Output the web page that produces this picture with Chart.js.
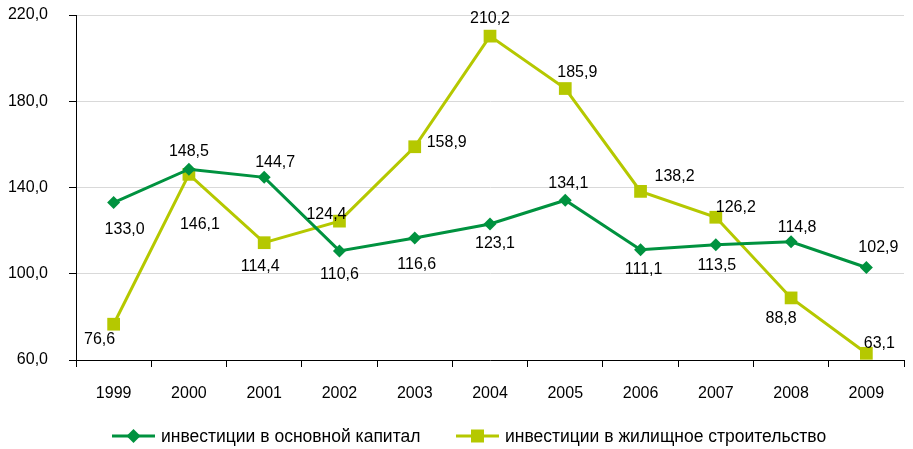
<!DOCTYPE html>
<html>
<head>
<meta charset="utf-8">
<script src="https://cdn.jsdelivr.net/npm/chart.js@4/dist/chart.umd.min.js"></script>
<style>
  html, body { margin: 0; padding: 0; background: #fff; }
  #wrap { width: 913px; height: 449px; }
</style>
</head>
<body>
<div id="wrap"><canvas id="chart" width="913" height="449"></canvas></div>
<script>
// years on the x axis
const years = ['1999', '2000', '2001', '2002', '2003', '2004', '2005', '2006', '2007', '2008', '2009'];

// series values
const fixedCapital = [133.0, 148.5, 144.7, 110.6, 116.6, 123.1, 134.1, 111.1, 113.5, 114.8, 102.9];
const housing = [76.6, 146.1, 114.4, 124.4, 158.9, 210.2, 185.9, 138.2, 126.2, 88.8, 63.1];

const seriesNames = ['инвестиции в основной капитал', 'инвестиции в жилищное строительство'];

// y axis ticks
const yTicks = [60, 100, 140, 180, 220];

// where each value label sits relative to its point (dx, dy in px)
const fixedLabelDx = [11, 0, 11, 0, 2, 5, 3, 3, 1, 6, 12];
const fixedLabelDy = [27, -18, -15, 24, 27, 20, -17, 20, 21, -14, -20];
const housingLabelDx = [-14, 11, -4, -13, 32, 0, 12, 34, 20, -10, 13];
const housingLabelDy = [15, 50, 24, -7, -4, -18, -16, -15, -10, 21, -10];

const darkGreen = '#00923f';
const lightGreen = '#b5c800';
const FONT = 'Liberation Sans, Arial, sans-serif';

function fmt(v) {
  return v.toFixed(1).replace('.', ',');
}

const valueLabels = {
  id: 'valueLabels',
  afterDatasetsDraw(chart) {
    const ctx = chart.ctx;
    const offs = [[fixedLabelDx, fixedLabelDy], [housingLabelDx, housingLabelDy]];
    ctx.save();
    ctx.font = '16px ' + FONT;
    ctx.fillStyle = '#000';
    ctx.textAlign = 'center';
    ctx.textBaseline = 'middle';
    chart.data.datasets.forEach(function (ds, i) {
      const meta = chart.getDatasetMeta(i);
      meta.data.forEach(function (pt, j) {
        ctx.fillText(fmt(ds.data[j]), pt.x + offs[i][0][j], pt.y + offs[i][1][j]);
      });
    });
    ctx.restore();
  }
};

const bottomLegend = {
  id: 'bottomLegend',
  afterDraw(chart) {
    const ctx = chart.ctx;
    const items = [
      { x: 112, color: darkGreen, style: 'diamond', text: seriesNames[0] },
      { x: 456, color: lightGreen, style: 'square', text: seriesNames[1] }
    ];
    const y = 436;
    ctx.save();
    items.forEach(function (it) {
      ctx.strokeStyle = it.color;
      ctx.lineWidth = 3;
      ctx.beginPath();
      ctx.moveTo(it.x, y);
      ctx.lineTo(it.x + 43, y);
      ctx.stroke();
      const cx = it.x + 21.5;
      ctx.fillStyle = it.color;
      ctx.beginPath();
      if (it.style === 'diamond') {
        ctx.moveTo(cx - 7, y);
        ctx.lineTo(cx, y - 7);
        ctx.lineTo(cx + 7, y);
        ctx.lineTo(cx, y + 7);
        ctx.closePath();
      } else {
        ctx.rect(cx - 6.5, y - 6.5, 13, 13);
      }
      ctx.fill();
      ctx.fillStyle = '#000';
      ctx.font = '17.5px ' + FONT;
      ctx.textAlign = 'left';
      ctx.textBaseline = 'middle';
      ctx.fillText(it.text, it.x + 49, y + 1);
    });
    ctx.restore();
  }
};

new Chart(document.getElementById('chart'), {
  type: 'line',
  data: {
    labels: years,
    datasets: [
      {
        label: seriesNames[0],
        data: fixedCapital,
        borderColor: darkGreen,
        backgroundColor: darkGreen,
        borderWidth: 3,
        pointStyle: 'rectRot',
        pointRadius: 6.5,
        pointHoverRadius: 6.5,
        pointBorderWidth: 0,
        tension: 0
      },
      {
        label: seriesNames[1],
        data: housing,
        borderColor: lightGreen,
        backgroundColor: lightGreen,
        borderWidth: 3,
        pointStyle: 'rect',
        pointRadius: 9,
        pointHoverRadius: 9,
        pointBorderWidth: 0,
        tension: 0
      }
    ]
  },
  options: {
    responsive: false,
    animation: false,
    layout: { padding: { top: 0, right: 2, left: 0, bottom: 0 } },
    plugins: {
      legend: { display: false },
      tooltip: { enabled: false }
    },
    scales: {
      x: {
        offset: true,
        grid: {
          offset: true,
          drawOnChartArea: false,
          tickLength: 7,
          tickColor: '#000'
        },
        border: { color: '#000', width: 1 },
        ticks: {
          color: '#000',
          font: { family: FONT, size: 16 },
          padding: 17,
          maxRotation: 0
        },
        afterFit(scale) { scale.height = 89; }
      },
      y: {
        min: 60,
        max: 220,
        afterBuildTicks(scale) {
          scale.ticks = yTicks.map(function (v) { return { value: v }; });
        },
        grid: {
          color: '#d9d9d9',
          lineWidth: 1,
          tickLength: 7,
          tickColor: '#000'
        },
        border: { color: '#000', width: 1 },
        ticks: {
          color: '#000',
          font: { family: FONT, size: 16 },
          padding: 21,
          callback: function (v) { return fmt(v); }
        },
        afterFit(scale) {
          scale.width = 76;
          scale.paddingTop = 15;
        }
      }
    }
  },
  plugins: [valueLabels, bottomLegend]
});
</script>
</body>
</html>
